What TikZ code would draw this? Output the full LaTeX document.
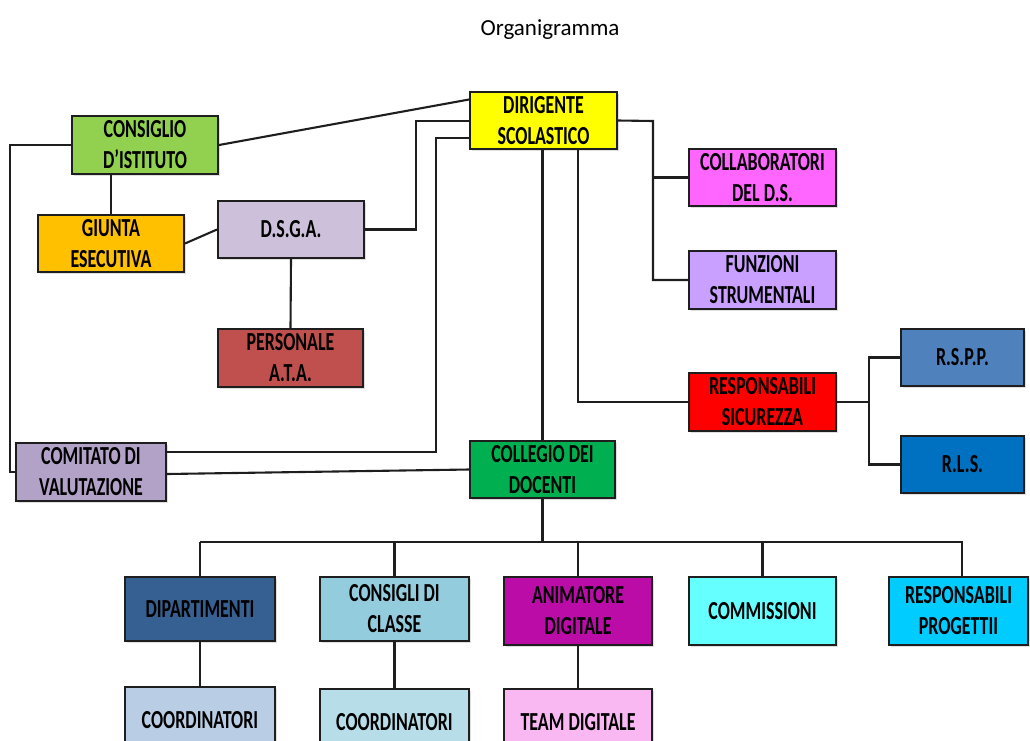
\documentclass[tikz,border=0pt]{standalone}
\usepackage{fontspec}
\setmainfont{Carlito}
\newfontfamily\lblfont[FakeStretch=0.69]{Carlito}
\usetikzlibrary{shadows}
\definecolor{cDir}{HTML}{FFFF00}
\definecolor{cCons}{HTML}{92D050}
\definecolor{cGiu}{HTML}{FFC000}
\definecolor{cDsga}{HTML}{CCC0DA}
\definecolor{cPers}{HTML}{C0504D}
\definecolor{cColl}{HTML}{FF66FF}
\definecolor{cFunz}{HTML}{C9A0FF}
\definecolor{cResp}{HTML}{FF0000}
\definecolor{cRspp}{HTML}{4F81BD}
\definecolor{cRls}{HTML}{0070C0}
\definecolor{cComit}{HTML}{B3A2C7}
\definecolor{cCollegio}{HTML}{00B050}
\definecolor{cDip}{HTML}{376092}
\definecolor{cCdc}{HTML}{93CDDD}
\definecolor{cAnim}{HTML}{BB0CA8}
\definecolor{cComm}{HTML}{66FFFF}
\definecolor{cProg}{HTML}{00CCFF}
\definecolor{cCo1}{HTML}{B9CDE5}
\definecolor{cCo2}{HTML}{B7DEE8}
\definecolor{cTeam}{HTML}{FAB8F2}
\definecolor{edge}{HTML}{1E1E1E}
\tikzset{
  box/.style={draw=edge, line width=2pt, rectangle, inner sep=0pt, align=center,
    font=\lblfont\bfseries\fontsize{26}{31}\selectfont, text=black,
    drop shadow={opacity=0.25, shadow xshift=1.5pt, shadow yshift=-1.5pt}},
  link/.style={draw=edge, line width=2.1pt},
}
\begin{document}
\begin{tikzpicture}[x=1pt,y=-1pt]
\useasboundingbox (0,0) rectangle (1030,740);
\clip (0,0) rectangle (1030,740);
\node[font=\fontsize{23}{27}\selectfont] (title) at (550,30) {Organigramma};

\node[box, fill=cDir, minimum width=147pt, minimum height=57pt] (dir) at (543.5,120.5) {DIRIGENTE\\SCOLASTICO};
\node[box, fill=cCons, minimum width=146pt, minimum height=58pt] (cons) at (145,145) {CONSIGLIO\\D’ISTITUTO};
\node[box, fill=cGiu, minimum width=146pt, minimum height=57pt] (giunta) at (111,243.5) {GIUNTA\\ESECUTIVA};
\node[box, fill=cDsga, minimum width=146pt, minimum height=57pt] (dsga) at (291,229.5) {D.S.G.A.};
\node[box, fill=cPers, minimum width=145pt, minimum height=58pt] (pers) at (290.5,358) {PERSONALE\\A.T.A.};
\node[box, fill=cColl, minimum width=147pt, minimum height=57pt] (coll) at (762.5,177.5) {COLLABORATORI\\DEL D.S.};
\node[box, fill=cFunz, minimum width=147pt, minimum height=58pt] (funz) at (762.5,280) {FUNZIONI\\STRUMENTALI};
\node[box, fill=cResp, minimum width=147pt, minimum height=58pt] (resp) at (762.5,402) {RESPONSABILI\\SICUREZZA};
\node[box, fill=cRspp, minimum width=123pt, minimum height=57pt] (rspp) at (962.5,357.5) {R.S.P.P.};
\node[box, fill=cRls, minimum width=123pt, minimum height=57pt] (rls) at (962.5,464.5) {R.L.S.};
\node[box, fill=cComit, minimum width=150pt, minimum height=58pt] (comit) at (91,472) {COMITATO DI\\VALUTAZIONE};
\node[box, fill=cCollegio, minimum width=145pt, minimum height=57pt] (collegio) at (542.5,469.5) {COLLEGIO DEI\\DOCENTI};
\node[box, fill=cDip, minimum width=150pt, minimum height=64pt] (dip) at (200,609) {DIPARTIMENTI};
\node[box, fill=cCdc, minimum width=149pt, minimum height=64pt] (cdc) at (394.5,609) {CONSIGLI DI\\CLASSE};
\node[box, fill=cAnim, minimum width=148pt, minimum height=68pt] (anim) at (578,611) {ANIMATORE\\DIGITALE};
\node[box, fill=cComm, minimum width=147pt, minimum height=68pt] (comm) at (762.5,611) {COMMISSIONI};
\node[box, fill=cProg, minimum width=139pt, minimum height=68pt] (prog) at (958.5,611) {RESPONSABILI\\PROGETTII};
\node[box, fill=cCo1, minimum width=150pt, minimum height=66pt] (co1) at (200,720) {COORDINATORI};
\node[box, fill=cCo2, minimum width=149pt, minimum height=66pt] (co2) at (394.5,722) {COORDINATORI};
\node[box, fill=cTeam, minimum width=148pt, minimum height=66pt] (team) at (578,722) {TEAM DIGITALE};

% connectors
\coordinate (k1) at (416,121);
\coordinate (k2) at (436,138);
\coordinate (k3) at (10,145);
\coordinate (k4) at (653,121);
\coordinate (k6) at (869,402);
\coordinate (busL) at (200,542);
\coordinate (busR) at (963,542);

\draw[link] ([yshift=21pt]dir.west) -- (cons.east);
\draw[link] (dsga.east) -| (k1) -- (k1 -| dir.west);
\draw[link] ([yshift=20pt]comit.east) -| (k2) -- (k2 -| dir.west);
\draw[link] ([yshift=-2pt]comit.east) -- (collegio.west);
\draw[link] (cons.west) -| (k3 |- comit.west) -- (comit.west);
\draw[link] (cons.south -| giunta.north) -- (giunta.north);
\draw[link] (giunta.east) -- (dsga.west);
\draw[link] (dsga.south) -- (pers.north);
\draw[link] (dir.east) -- (k4) |- (funz.west);
\draw[link] (k4 |- coll.west) -- (coll.west);
\draw[link] (dir.south -| collegio.north) -- (collegio.north);
\draw[link] ([xshift=34.5pt]dir.south) |- (resp.west);
\draw[link] (resp.east) -- (k6);
\draw[link] (rspp.west) -- (k6 |- rspp.west) -- (k6 |- rls.west) -- (rls.west);
\draw[link] (collegio.south) -- (collegio.south |- busL);
\draw[link] (busL) -- (busR);
\draw[link] (dip.north |- busL) -- (dip.north);
\draw[link] (cdc.north |- busL) -- (cdc.north);
\draw[link] (anim.north |- busL) -- (anim.north);
\draw[link] (comm.north |- busL) -- (comm.north);
\draw[link] ([xshift=3.5pt]prog.north |- busL) -- ([xshift=3.5pt]prog.north);
\draw[link] (dip.south) -- (co1.north);
\draw[link] (cdc.south) -- (co2.north);
\draw[link] (anim.south) -- (team.north);
\end{tikzpicture}
\end{document}
